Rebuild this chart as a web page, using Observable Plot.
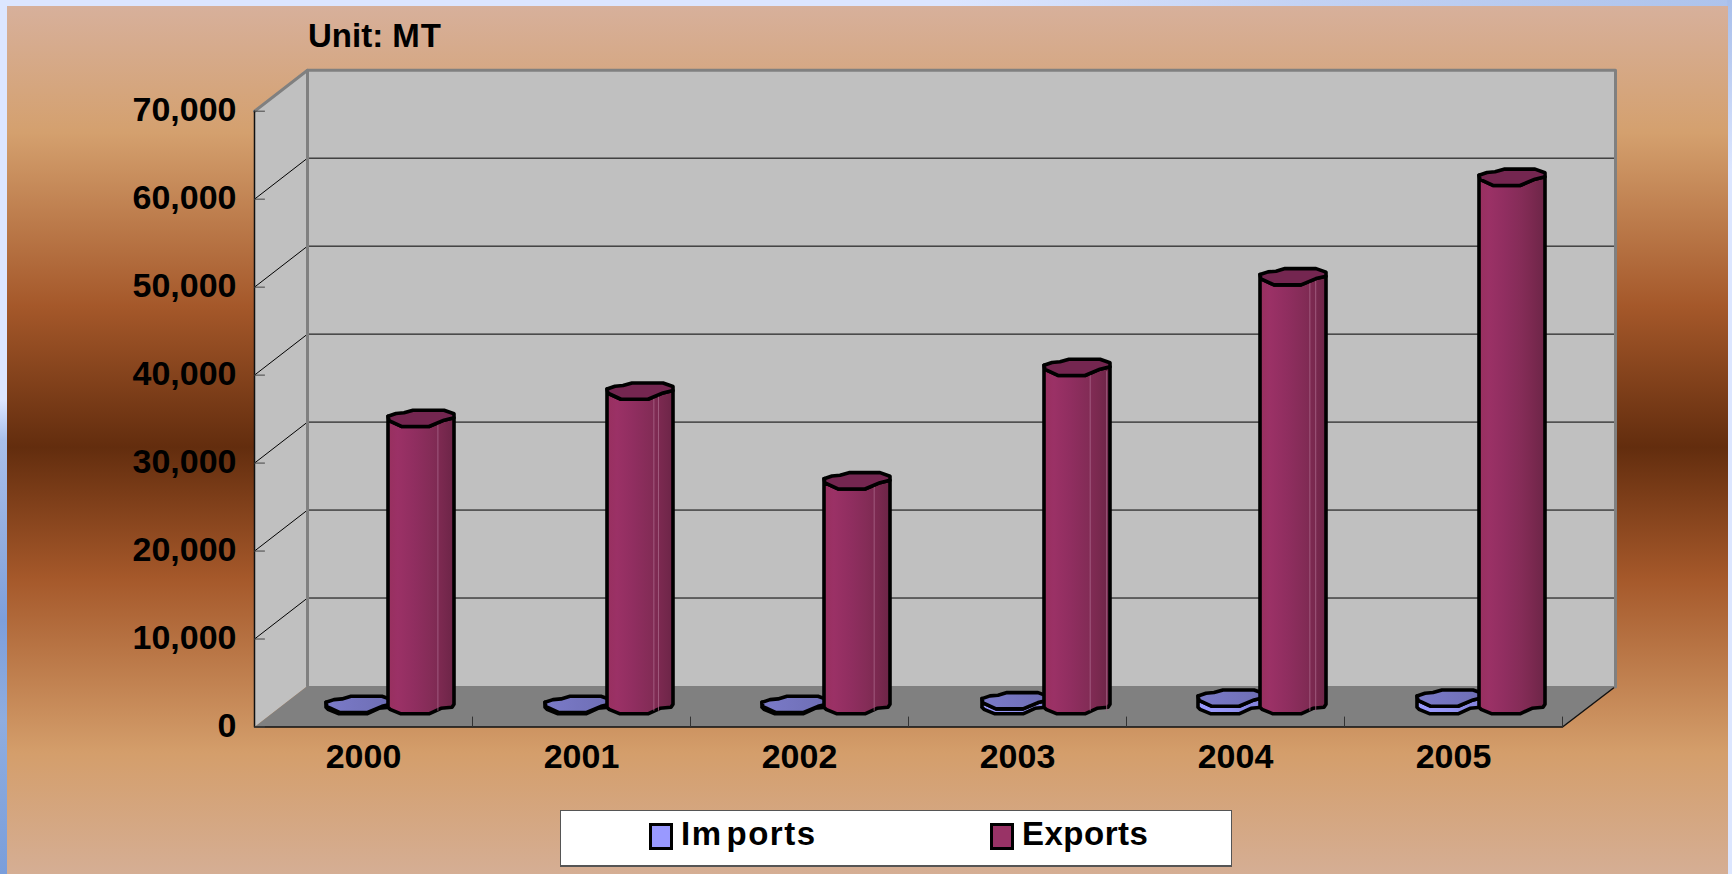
<!DOCTYPE html>
<html>
<head>
<meta charset="utf-8">
<script src="https://cdn.jsdelivr.net/npm/d3@7"></script>
<script src="https://cdn.jsdelivr.net/npm/@observablehq/plot@0.6"></script>
<style>
  html, body { margin: 0; padding: 0; }
  body { width: 1732px; height: 874px; overflow: hidden; font-family: "Liberation Sans", Arial, sans-serif; }
  #stage {
    position: relative; width: 1732px; height: 874px; overflow: hidden;
    background:
      linear-gradient(180deg, #dce6ff 0, #dce6ff 400px, #a9c0ea 440px, #8eaade 560px, #7d9fdb 620px, #8faddf 720px, #7a9edb 874px) left top / 7px 874px no-repeat,
      linear-gradient(180deg, #a8bfeb 0, #b9cbf0 60px, #dce6ff 170px, #dce6ff 874px) right top / 5px 874px no-repeat,
      linear-gradient(90deg, #dce6ff 0, #dce6ff 55%, #c4d3f4 75%, #adc3ec 100%) left top / 100% 6px no-repeat;
  }
  #panel {
    position: absolute; left: 7px; top: 6px; right: 4px; bottom: 0;
    background: linear-gradient(180deg, #d7b09b 0, #d4a06e 127px, #a5582a 300px, #632d0e 441px, #a5582a 571px, #d49e6b 747px, #d5ae94 868px);
  }
  #chart { position: absolute; left: 0; top: 0; }
  #chart svg { background: transparent; display: block; }
  #unit { position: absolute; left: 308px; top: 17px; font-size: 33px; font-weight: 700; line-height: 38px; color: #000; white-space: nowrap; }
  #legend { position: absolute; left: 560px; top: 810px; width: 670px; height: 54px; background: #fff; border: 1px solid #555; border-bottom-width: 2px; }
  #legend .sw { position: absolute; top: 12px; width: 18px; height: 21px; border: 3px solid #000; }
  #legend .tx { position: absolute; top: 4px; font-size: 33px; font-weight: 700; line-height: 38px; color: #000; white-space: nowrap; }
</style>
</head>
<body>
<div id="stage">
  <div id="panel"></div>
  <div id="chart"></div>
  <div id="unit">Unit: M<span style="margin-left:1px">T</span></div>
  <div id="legend">
    <span class="sw" style="left:88px;background:#9999ff"></span><span class="tx" style="left:120px;letter-spacing:1.5px">Im<span style="margin-left:4px">ports</span></span>
    <span class="sw" style="left:429px;background:#993366"></span><span class="tx" style="left:461px;letter-spacing:.5px">Exports</span>
  </div>
</div>
<script>
const years = ["2000", "2001", "2002", "2003", "2004", "2005"];
const imports = [80, 80, 80, 500, 800, 800];
const exportsMT = [32600, 35700, 25500, 38400, 48700, 60000];
const yTicks = [0, 10000, 20000, 30000, 40000, 50000, 60000, 70000];

// Pseudo-3D frame, expressed in pixel sizes then converted into scale units.
const xRange = [254, 1562], yRange = [726.5, 110.7];
const catDomain = [0, 6], valDomain = [0, 70000];
const pxPerCat = (xRange[1] - xRange[0]) / catDomain[1];
const pxPerVal = (yRange[0] - yRange[1]) / valDomain[1];
const DEPTH_X = 53, DEPTH_Y = 41;
const X = (cat, depth = 0, px = 0) => cat + (depth * DEPTH_X + px) / pxPerCat;
const Y = (val, depth = 0, px = 0) => val + (depth * DEPTH_Y - px) / pxPerVal;
const pt = (cat, val, depth = 0, pxx = 0, pxy = 0) => ({x: X(cat, depth, pxx), y: Y(val, depth, pxy)});

const poly = (pts, opts) => Plot.line(pts, {x: "x", y: "y", ...opts});

// Faceted cylinder outline (pixel offsets from the bar's centre).
const capShape = [[-33,-2.3],[-25,-5],[-17,-5.7],[-8,-8.3],[23,-8.3],[33,-4.7],[33,-0.7],[23,1.7],[8,8],[-19,8],[-32,2]];
const baseChain = [[-33,2],[-31,4],[-20,8.5],[8,8.5],[20,3],[31,2],[33,-1]];
const frontChain = [[33,-0.7],[23,1.7],[8,8],[-19,8],[-32,2],[-33,-2.3]];
const BAR_OFFSET = 31, BASE_LIFT = 1.2;
const barNudge = [0, 1, 0, 2, 0, 1];
// Thin highlight facets seen on the export bars, as a fraction of bar width.
const streaks = {2000: [.756], 2001: [.71, .78], 2002: [.76], 2003: [.70, .95], 2004: [.755, .844], 2005: []};

const center = (i, side) => ({cat: i + .5, px: side * BAR_OFFSET + barNudge[i]});
function bodyRows(values, side, name) {
  return values.flatMap((v, i) => {
    const c = center(i, side);
    const bar = name + years[i];
    const at = ([dx, dy], val) => ({...pt(c.cat, val, .5, c.px + dx, dy - BASE_LIFT), bar});
    const pts = [...baseChain.map(p => at(p, 0)), ...frontChain.map(p => at(p, v))];
    return [...pts, pts[0]];
  });
}
function capRows(values, side, name) {
  return values.flatMap((v, i) => {
    const c = center(i, side);
    const bar = name + years[i];
    const pts = capShape.map(([dx, dy]) => ({...pt(c.cat, v, .5, c.px + dx, dy - BASE_LIFT), bar}));
    return [...pts, pts[0]];
  });
}
const streakRows = exportsMT.flatMap((v, i) => (streaks[years[i]] || []).flatMap((f, k) => {
  const c = center(i, 1), off = f * 66 - 33, bar = years[i] + k;
  return [
    {...pt(c.cat, 0, .5, c.px + off, 5 - BASE_LIFT), bar},
    {...pt(c.cat, v, .5, c.px + off, 4 - BASE_LIFT), bar}
  ];
}));

function gradient(id, stops) {
  const ns = "http://www.w3.org/2000/svg";
  const g = document.createElementNS(ns, "linearGradient");
  g.setAttribute("id", id);
  for (const [o, c] of stops) {
    const s = document.createElementNS(ns, "stop");
    s.setAttribute("offset", o); s.setAttribute("stop-color", c);
    g.appendChild(s);
  }
  return g;
}
const defsMark = () => {
  const defs = document.createElementNS("http://www.w3.org/2000/svg", "defs");
  defs.appendChild(gradient("expBody", [[0,"#98305f"],[.15,"#9b3166"],[.4,"#902e60"],[.65,"#842c57"],[.8,"#7b2950"],[1,"#6c2547"]]));
  defs.appendChild(gradient("impBody", [[0,"#9c9cff"],[.5,"#9393f2"],[1,"#8080d8"]]));
  defs.appendChild(gradient("impCap", [[0,"#7a7ac8"],[1,"#6e6eb4"]]));
  return defs;
};

const gridRows = yTicks.filter(t => t > 0 && t < 70000).flatMap(t => [
  {...pt(0, t, 0), t}, {...pt(0, t, 1), t}, {...pt(6, t, 1), t}
]);
const yTickRows = yTicks.flatMap(t => [{...pt(0, t), t}, {...pt(0, t, 0, 10), t}]);
const xTickRows = d3.range(1, 7).flatMap(c => [{...pt(c, 0), c}, {...pt(c, 0, 0, 0, -10), c}]);

const chart = Plot.plot({
  width: 1732, height: 874,
  marginTop: yRange[1], marginRight: 1732 - xRange[1], marginBottom: 874 - yRange[0], marginLeft: xRange[0],
  style: {background: "transparent", fontFamily: "'Liberation Sans', Arial, sans-serif", color: "#000", overflow: "visible"},
  x: {type: "linear", domain: catDomain, range: xRange, label: null},
  y: {type: "linear", domain: valDomain, range: yRange, label: null},
  marks: [
    defsMark,
    // side wall
    poly([pt(0,0),pt(0,70000),pt(0,70000,1),pt(0,0,1),pt(0,0)], {fill: "#c0c0c0", stroke: "none"}),
    // back wall
    poly([pt(0,0,1),pt(0,70000,1),pt(6,70000,1),pt(6,0,1),pt(0,0,1)], {fill: "#c0c0c0", stroke: "none"}),
    // floor
    poly([pt(0,0),pt(0,0,1),pt(6,0,1),pt(6,0),pt(0,0)], {fill: "#808080", stroke: "none"}),
    // grid
    Plot.line(gridRows, {x: "x", y: "y", z: "t", stroke: "#000", strokeWidth: 1}),
    // wall edges
    poly([pt(0,70000),pt(0,70000,1),pt(6,70000,1),pt(6,0,1,0,1)], {stroke: "#808080", strokeWidth: 3}),
    poly([pt(0,70000,1),pt(0,0,1)], {stroke: "#808080", strokeWidth: 3}),
    // front axis lines
    poly([pt(0,70000),pt(0,0),pt(6,0),pt(6,0,1,-2,2)], {stroke: "#111", strokeWidth: 1.5}),
    Plot.line(yTickRows, {x: "x", y: "y", z: "t", stroke: "#444", strokeWidth: 1}),
    Plot.line(xTickRows, {x: "x", y: "y", z: "c", stroke: "#333", strokeWidth: 1}),
    // imports
    Plot.line(bodyRows(imports, -1, "i"), {x: "x", y: "y", z: "bar", fill: "url(#impBody)", stroke: "#000", strokeWidth: 3.6}),
    Plot.line(capRows(imports, -1, "i"), {x: "x", y: "y", z: "bar", fill: "url(#impCap)", stroke: "#000", strokeWidth: 3.6}),
    // exports
    Plot.line(bodyRows(exportsMT, 1, "e"), {x: "x", y: "y", z: "bar", fill: "url(#expBody)", stroke: "#000", strokeWidth: 3.6}),
    Plot.line(streakRows, {x: "x", y: "y", z: "bar", stroke: "#a9668a", strokeWidth: 1, strokeOpacity: .8}),
    Plot.line(capRows(exportsMT, 1, "e"), {x: "x", y: "y", z: "bar", fill: "#742650", stroke: "#000", strokeWidth: 3.6}),
    // axes
    Plot.axisY(yTicks, {anchor: "left", tickSize: 0, tickPadding: 18, dy: -1.3, label: null, fontSize: 34, fontWeight: 700, tickFormat: d3.format(","), fill: "#000"}),
    Plot.axisX(years.map((_, i) => i + .5), {anchor: "bottom", tickSize: 0, tickPadding: 17, label: null, fontSize: 34, fontWeight: 700, tickFormat: d => years[d - .5], fill: "#000"})
  ]
});
document.getElementById("chart").appendChild(chart);
</script>
</body>
</html>
